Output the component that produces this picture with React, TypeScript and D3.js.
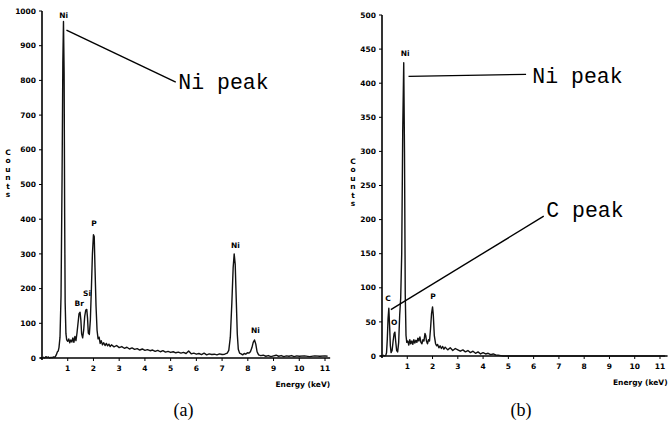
import React from 'react';
import * as d3 from 'd3';

// spectrum (a): energy in keV, counts
const energyA = [0, 0.05, 0.1, 0.15, 0.2, 0.25, 0.3, 0.35, 0.4, 0.45, 0.5, 0.55, 0.6, 0.63, 0.66, 0.7, 0.74, 0.78, 0.81, 0.835, 0.86, 0.88, 0.9, 0.93, 0.96, 1.0, 1.04, 1.08, 1.12, 1.16, 1.2, 1.24, 1.28, 1.32, 1.36, 1.4, 1.44, 1.48, 1.51, 1.54, 1.58, 1.62, 1.66, 1.7, 1.74, 1.77, 1.8, 1.84, 1.88, 1.92, 1.96, 2.0, 2.03, 2.06, 2.1, 2.14, 2.18, 2.22, 2.26, 2.3, 2.35, 2.4, 2.45, 2.5, 2.55, 2.6, 2.65, 2.7, 2.8, 2.9, 3.0, 3.1, 3.2, 3.3, 3.4, 3.5, 3.6, 3.7, 3.8, 3.9, 4.0, 4.1, 4.2, 4.3, 4.4, 4.5, 4.6, 4.7, 4.8, 4.9, 5.0, 5.1, 5.2, 5.3, 5.4, 5.5, 5.6, 5.7, 5.8, 5.9, 6.0, 6.1, 6.2, 6.3, 6.4, 6.5, 6.6, 6.7, 6.8, 6.9, 7.0, 7.1, 7.2, 7.26, 7.32, 7.38, 7.43, 7.47, 7.51, 7.55, 7.59, 7.63, 7.68, 7.74, 7.8, 7.86, 7.92, 7.98, 8.04, 8.1, 8.16, 8.21, 8.26, 8.31, 8.36, 8.42, 8.5, 8.6, 8.7, 8.8, 8.9, 9.0, 9.1, 9.2, 9.3, 9.4, 9.5, 9.6, 9.7, 9.8, 9.9, 10.0, 10.2, 10.4, 10.6, 10.8, 11.0, 11.1];
const countsA = [0, 2, 0, 4, 1, 3, 0, 2, 1, 3, 2, 8, 18, 20, 30, 60, 180, 520, 850, 970, 820, 420, 160, 70, 52, 48, 55, 44, 52, 46, 58, 45, 62, 50, 72, 100, 128, 132, 110, 70, 58, 80, 120, 138, 140, 115, 72, 68, 110, 200, 300, 355, 350, 260, 150, 80, 55, 60, 42, 50, 38, 44, 36, 42, 35, 40, 33, 38, 32, 36, 30, 33, 28, 31, 26, 29, 25, 27, 23, 26, 22, 24, 21, 23, 19, 22, 18, 21, 17, 19, 16, 18, 15, 17, 14, 16, 13, 20, 12, 14, 11, 13, 10, 14, 9, 12, 10, 11, 9, 12, 10, 11, 14, 22, 60, 160, 260, 300, 270, 170, 70, 25, 14, 12, 9, 13, 11, 15, 14, 18, 30, 45, 52, 40, 18, 9, 7, 8, 5, 7, 4, 6, 8, 5, 7, 4, 6, 5, 7, 4, 6, 5, 6, 4, 6, 5, 6, 5];

// spectrum (b)
const energyB = [0, 0.05, 0.1, 0.15, 0.18, 0.21, 0.24, 0.27, 0.3, 0.33, 0.36, 0.4, 0.44, 0.48, 0.51, 0.54, 0.58, 0.62, 0.66, 0.7, 0.74, 0.78, 0.82, 0.86, 0.89, 0.92, 0.95, 0.98, 1.02, 1.06, 1.1, 1.14, 1.18, 1.22, 1.26, 1.3, 1.34, 1.38, 1.42, 1.46, 1.5, 1.54, 1.58, 1.62, 1.66, 1.7, 1.73, 1.76, 1.8, 1.84, 1.88, 1.92, 1.96, 2.0, 2.03, 2.07, 2.12, 2.16, 2.2, 2.25, 2.3, 2.35, 2.4, 2.45, 2.5, 2.6, 2.7, 2.8, 2.9, 3.0, 3.1, 3.2, 3.3, 3.4, 3.5, 3.6, 3.7, 3.8, 3.9, 4.0, 4.1, 4.2, 4.3, 4.4, 4.5, 4.6, 4.7, 4.8, 11.2];
const countsB = [0, 1, 0, 1, 5, 25, 55, 70, 45, 15, 5, 8, 22, 33, 35, 22, 8, 6, 20, 60, 85, 150, 330, 430, 300, 90, 30, 20, 22, 16, 24, 18, 22, 17, 24, 19, 23, 20, 26, 22, 28, 20, 18, 24, 22, 33, 30, 22, 18, 24, 22, 40, 62, 72, 60, 30, 18, 15, 17, 12, 15, 11, 14, 10, 13, 9, 12, 8, 11, 9, 7, 9, 6, 8, 5, 7, 4, 6, 3, 5, 3, 4, 2, 3, 1.5, 1, 0.5, 0, 0];

const xTicks = [1, 2, 3, 4, 5, 6, 7, 8, 9, 10, 11];
const yTicksA = [0, 100, 200, 300, 400, 500, 600, 700, 800, 900, 1000];
const yTicksB = [0, 50, 100, 150, 200, 250, 300, 350, 400, 450, 500];

// peak labels: [text, keV, counts]
const peaksA: [string, number, number][] = [['Ni', 0.84, 980], ['Br', 1.45, 150], ['Si', 1.75, 180], ['P', 2.02, 380], ['Ni', 7.52, 318], ['Ni', 8.3, 72]];
const peaksB: [string, number, number][] = [['Ni', 0.92, 440], ['C', 0.24, 80], ['O', 0.48, 46], ['P', 2.02, 84]];

const tickFont = '"DejaVu Sans", sans-serif';
const monoFont = '"Liberation Mono", "DejaVu Sans Mono", monospace';

type PanelProps = {
  energy: number[];
  counts: number[];
  yTicks: number[];
  yMax: number;
  xRange: [number, number];
  yRange: [number, number];
  axisEnd: number;
  countsX: number;
  countsY: number;
  peaks: [string, number, number][];
  caption: string;
  children?: (x: d3.ScaleLinear<number, number>, y: d3.ScaleLinear<number, number>) => React.ReactNode;
};

function Panel(p: PanelProps) {
  const x = d3.scaleLinear().domain([0, 11]).range(p.xRange);
  const y = d3.scaleLinear().domain([0, p.yMax]).range(p.yRange);
  const pts = p.energy.map((e, i) => [e, p.counts[i]] as [number, number]);
  const path = d3.line<[number, number]>().x(d => x(d[0])).y(d => y(d[1]))(pts) || '';
  const x0 = x(0);
  const y0 = y(0);
  return (
    <g>
      {/* y axis */}
      <line x1={x0} x2={x0} y1={y0 + 2} y2={y(p.yMax)} stroke="#000" strokeWidth={1.6} />
      {p.yTicks.map(t => (
        <g key={t}>
          <line x1={x0 - 3} x2={x0} y1={y(t)} y2={y(t)} stroke="#000" strokeWidth={1} />
          <text x={x0 - 6} y={y(t)} dy="0.35em" textAnchor="end" fontSize={7.5} fontWeight="bold" fontFamily={tickFont}>{t}</text>
        </g>
      ))}
      {/* x axis */}
      <line x1={x0 - 2} x2={x(p.axisEnd)} y1={y0} y2={y0} stroke="#000" strokeWidth={1.6} />
      {xTicks.map(t => (
        <g key={t}>
          <line x1={x(t)} x2={x(t)} y1={y0} y2={y0 + 3} stroke="#000" strokeWidth={1} />
          <text x={x(t)} y={y0 + 13} textAnchor="middle" fontSize={7.5} fontWeight="bold" fontFamily={tickFont}>{t}</text>
        </g>
      ))}
      <text x={x(p.axisEnd)} y={y0 + 29} textAnchor="end" fontSize={7.5} fontWeight="bold" fontFamily={tickFont}>Energy (keV)</text>
      {'Counts'.split('').map((c, i) => (
        <text key={i} x={p.countsX} y={p.countsY + i * 8.4} textAnchor="middle" fontSize={7.5} fontWeight="bold" fontFamily={tickFont}>{c}</text>
      ))}
      <path d={path} fill="none" stroke="#111" strokeWidth={1.4} strokeLinejoin="round" />
      {p.peaks.map(([t, e, c], i) => (
        <text key={i} x={x(e)} y={y(c)} textAnchor="middle" fontSize={7.5} fontWeight="bold" fontFamily={tickFont}>{t}</text>
      ))}
      {p.children && p.children(x, y)}
      <text x={(p.xRange[0] + p.xRange[1]) / 2} y={416} textAnchor="middle" fontSize={18} fontFamily='"Liberation Serif", serif'>{p.caption}</text>
    </g>
  );
}

export default function App() {
  return (
    <svg width={669} height={431} style={{ position: 'absolute', left: 0, top: 0, background: '#fff' }}>
      <Panel energy={energyA} counts={countsA} yTicks={yTicksA} yMax={1000}
        xRange={[42, 325]} yRange={[358, 11]} axisEnd={11.2} countsX={8} countsY={155}
        peaks={peaksA} caption="(a)">
        {(x, y) => (
          <g>
            <line x1={x(0.95)} y1={y(945)} x2={x(5.2)} y2={y(795)} stroke="#000" strokeWidth={1.4} />
            <text x={x(5.3)} y={y(775)} fontSize={21.5} fontFamily={monoFont}>Ni peak</text>
          </g>
        )}
      </Panel>
      <Panel energy={energyB} counts={countsB} yTicks={yTicksB} yMax={500}
        xRange={[382, 660]} yRange={[356, 15]} axisEnd={11.3} countsX={353} countsY={164}
        peaks={peaksB} caption="(b)">
        {(x, y) => (
          <g>
            <polyline points={`${x(1.05)},${y(410)} ${x(5.7)},${y(413)}`} fill="none" stroke="#000" strokeWidth={1.4} />
            <text x={x(5.95)} y={y(400)} fontSize={21.5} fontFamily={monoFont}>Ni peak</text>
            <line x1={x(0.35)} y1={y(68)} x2={x(6.4)} y2={y(205)} stroke="#000" strokeWidth={1.4} />
            <text x={x(6.5)} y={y(204)} fontSize={21.5} fontFamily={monoFont}>C peak</text>
          </g>
        )}
      </Panel>
    </svg>
  );
}
